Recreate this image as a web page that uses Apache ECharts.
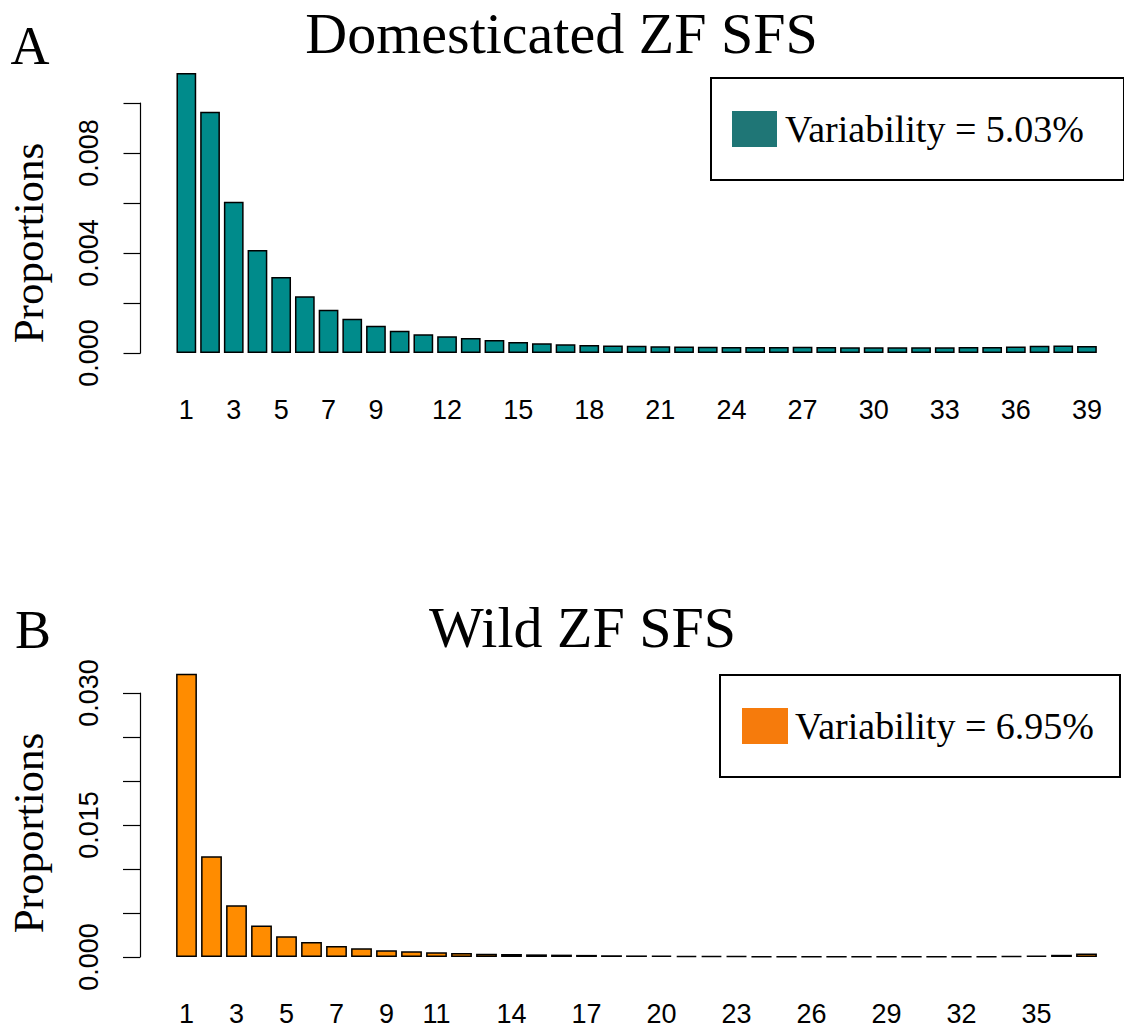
<!DOCTYPE html>
<html>
<head>
<meta charset="utf-8">
<script src="https://cdn.jsdelivr.net/npm/echarts@6/dist/echarts.min.js"></script>
<style>
html,body{margin:0;padding:0;background:#fff;}
#chart{width:1124px;height:1027px;}
</style>
</head>
<body>
<div id="chart"></div>
<script>
// ---- Data ----
const domCategories = Array.from({length: 39}, (_, i) => String(i + 1));
const domValues = [
  0.0112, 0.00965, 0.00605, 0.00412, 0.00304, 0.00227, 0.00173, 0.00137, 0.00109, 0.00089,
  0.00075, 0.00067, 0.00060, 0.00052, 0.00044, 0.00039, 0.00035, 0.00032, 0.00030, 0.00029,
  0.00027, 0.00026, 0.00025, 0.00024, 0.00024, 0.00024, 0.00025, 0.00024, 0.00023, 0.00023,
  0.00023, 0.00023, 0.00023, 0.00024, 0.00024, 0.00026, 0.00029, 0.00030, 0.00028
];
const domTickLabels = ['1','3','5','7','9','12','15','18','21','24','27','30','33','36','39'];

const wildCategories = Array.from({length: 37}, (_, i) => String(i + 1));
const wildValues = [
  0.0322, 0.01146, 0.00588, 0.00357, 0.00235, 0.00170, 0.00125, 0.00099, 0.00076, 0.00065,
  0.00053, 0.00046, 0.00038, 0.00034, 0.00030, 0.00027, 0.00024, 0.00020, 0.00018, 0.00016,
  0.00014, 0.00012, 0.00010, 0.00008, 0.00007, 0.00006, 0.00006, 0.00006, 0.00006, 0.00006,
  0.00006, 0.00007, 0.00008, 0.00010, 0.00015, 0.00025, 0.00040
];
const wildTickLabels = ['1','3','5','7','9','11','14','17','20','23','26','29','32','35'];

const domYLabels = ['0.000', '0.004', '0.008'];
const wildYLabels = ['0.000', '0.015', '0.030'];

const domLegend = 'Variability = 5.03%';
const wildLegend = 'Variability = 6.95%';

// ---- Styles ----
const SERIF = 'Liberation Serif';
const SANS = 'Liberation Sans';

function yAxisCfg(gridIndex, max, interval, shown) {
  return {
    type: 'value', gridIndex, min: 0, max, interval, offset: 34,
    axisLine: {show: true, lineStyle: {color: '#000', width: 1.2}},
    axisTick: {show: true, length: 17, lineStyle: {color: '#000', width: 1.2}},
    splitLine: {show: false},
    axisLabel: {
      rotate: 90, margin: 38, fontFamily: SANS, fontSize: 27, color: '#000',
      formatter: v => { const s = v.toFixed(3); return shown.includes(s) ? s : ''; }
    }
  };
}
function xAxisCfg(gridIndex, cats, shown) {
  return {
    type: 'category', gridIndex, data: cats,
    axisLine: {show: false}, axisTick: {show: false},
    axisLabel: {
      interval: (idx, val) => shown.includes(val),
      margin: 43, fontFamily: SANS, fontSize: 27, color: '#000'
    }
  };
}

const option = {
  animation: false,
  backgroundColor: '#fff',
  grid: [
    {left: 174.5, top: 103, width: 924.3, height: 250, containLabel: false},
    {left: 174, top: 693, width: 925, height: 264, containLabel: false}
  ],
  xAxis: [xAxisCfg(0, domCategories, domTickLabels), xAxisCfg(1, wildCategories, wildTickLabels)],
  yAxis: [yAxisCfg(0, 0.010, 0.002, domYLabels), yAxisCfg(1, 0.030, 0.005, wildYLabels)],
  legend: [
    {
      left: 711, top: 78, orient: 'horizontal', selectedMode: false,
      padding: [32, 40, 32, 21], borderColor: '#000', borderWidth: 2,
      itemWidth: 45, itemHeight: 36, icon: 'rect', itemGap: 0,
      textStyle: {fontFamily: SERIF, fontSize: 38, color: '#000', padding: [0, 0, 0, 3]},
      data: [{name: domLegend, itemStyle: {color: '#1f7676', borderWidth: 0}}]
    },
    {
      left: 720, top: 675, orient: 'horizontal', selectedMode: false,
      padding: [32, 26, 32, 22], borderColor: '#000', borderWidth: 2,
      itemWidth: 46, itemHeight: 36, icon: 'rect', itemGap: 0,
      textStyle: {fontFamily: SERIF, fontSize: 38, color: '#000', padding: [0, 0, 0, 2]},
      data: [{name: wildLegend, itemStyle: {color: '#f67b0c', borderWidth: 0}}]
    }
  ],
  series: [
    {
      name: domLegend, type: 'bar', xAxisIndex: 0, yAxisIndex: 0, data: domValues,
      barWidth: '83.3%', clip: false,
      itemStyle: {color: '#008b8b', borderColor: '#000', borderWidth: 1.5}
    },
    {
      name: wildLegend, type: 'bar', xAxisIndex: 1, yAxisIndex: 1, data: wildValues,
      barWidth: '83.3%', clip: false,
      itemStyle: {color: '#ff8c00', borderColor: '#000', borderWidth: 1.5}
    }
  ],
  graphic: [
    {type: 'text', x: 561.5, y: 33, style: {text: 'Domesticated ZF SFS', font: '58px "Liberation Serif"', fill: '#000', align: 'center', verticalAlign: 'middle'}},
    {type: 'text', x: 582.5, y: 627, style: {text: 'Wild ZF SFS', font: '58px "Liberation Serif"', fill: '#000', align: 'center', verticalAlign: 'middle'}},
    {type: 'text', x: 30, y: 46, style: {text: 'A', font: '54px "Liberation Serif"', fill: '#000', align: 'center', verticalAlign: 'middle'}},
    {type: 'text', x: 33, y: 630, style: {text: 'B', font: '54px "Liberation Serif"', fill: '#000', align: 'center', verticalAlign: 'middle'}},
    {type: 'text', x: 28, y: 243, rotation: Math.PI / 2, style: {text: 'Proportions', font: '43px "Liberation Serif"', fill: '#000', align: 'center', verticalAlign: 'middle'}},
    {type: 'text', x: 28, y: 833, rotation: Math.PI / 2, style: {text: 'Proportions', font: '43px "Liberation Serif"', fill: '#000', align: 'center', verticalAlign: 'middle'}}
  ]
};

const chart = echarts.init(document.getElementById('chart'), null, {renderer: 'svg'});
chart.setOption(option);
</script>
</body>
</html>
